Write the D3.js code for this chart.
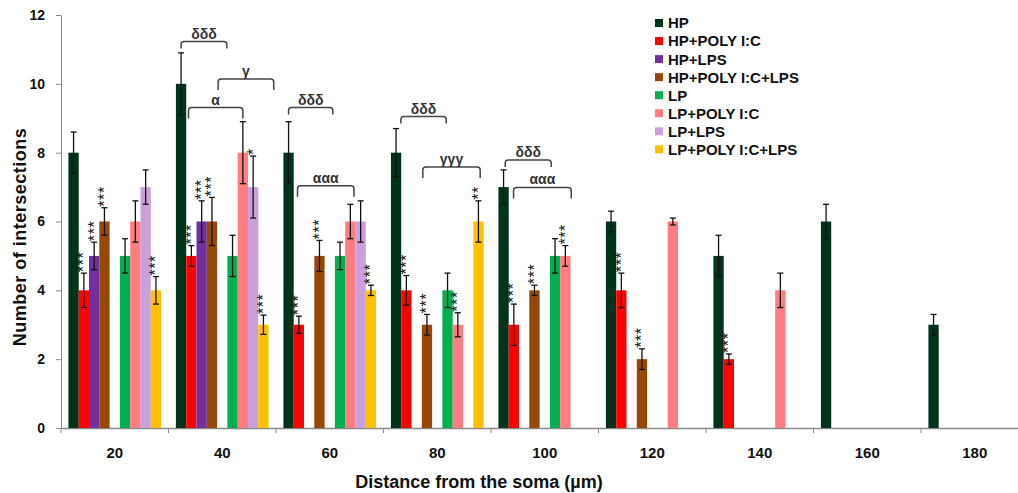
<!DOCTYPE html>
<html>
<head>
<meta charset="utf-8">
<script src="https://cdn.jsdelivr.net/npm/d3@7"></script>
<style>
  body { margin: 0; background: #fff; }
  text { font-family: Arial, "Liberation Sans", sans-serif; }
</style>
</head>
<body>
<div id="chart"></div>
<script>
// distance bins (µm)
const categories = ["20", "40", "60", "80", "100", "120", "140", "160", "180"];
const seriesNames = ["HP", "HP+POLY I:C", "HP+LPS", "HP+POLY I:C+LPS",
                     "LP", "LP+POLY I:C", "LP+LPS", "LP+POLY I:C+LPS"];
const seriesColors = ["#00331a", "#ff0000", "#7030a0", "#974806",
                      "#00b050", "#ff7c80", "#c9a0dc", "#ffc000"];

// mean values per series (null = no bar)
const hp          = [8, 10, 8, 8, 7, 6, 5, 6, 3];
const hpPoly      = [4, 5, 3, 4, 3, 4, 2, null, null];
const hpLps       = [5, 6, null, null, null, null, null, null, null];
const hpPolyLps   = [6, 6, 5, 3, 4, 2, null, null, null];
const lp          = [5, 5, 5, 4, 5, null, null, null, null];
const lpPoly      = [6, 8, 6, 3, 5, 6, 4, null, null];
const lpLps       = [7, 7, 6, null, null, null, null, null, null];
const lpPolyLps   = [4, 3, 4, 6, null, null, null, null, null];

// error (± s.e.m.)
const hpErr        = [0.6, 0.9, 0.9, 0.7, 0.5, 0.3, 0.6, 0.5, 0.3];
const hpPolyErr    = [0.5, 0.3, 0.25, 0.43, 0.6, 0.5, 0.15, null, null];
const hpLpsErr     = [0.4, 0.6, null, null, null, null, null, null, null];
const hpPolyLpsErr = [0.4, 0.7, 0.45, 0.3, 0.15, 0.3, null, null, null];
const lpErr        = [0.5, 0.6, 0.4, 0.5, 0.5, null, null, null, null];
const lpPolyErr    = [0.6, 0.9, 0.5, 0.35, 0.3, 0.1, 0.5, null, null];
const lpLpsErr     = [0.5, 0.9, 0.6, null, null, null, null, null, null];
const lpPolyLpsErr = [0.4, 0.28, 0.15, 0.6, null, null, null, null, null];

// significance stars above error bars
const hpStars        = [];
const hpPolyStars    = ["***", "***", "***", "***", "***", "***", "***"];
const hpLpsStars     = ["***", "***"];
const hpPolyLpsStars = ["***", "***", "***", "***", "***", "***"];
const lpStars        = [];
const lpPolyStars    = [null, null, null, "***", "***"];
const lpLpsStars     = [null, "*"];
const lpPolyLpsStars = ["***", "***", "***", "**"];

// comparison brackets: category index, from slot, to slot, height, label
const brackets = [
  [1, 0, 4.45, 11.23, "δδδ"],
  [1, 3.6, 9.0, 10.14, "γ"],
  [1, 0.72, 6.0, 9.31, "α"],
  [2, 0, 4.3, 9.31, "δδδ"],
  [2, 0.87, 6.35, 7.04, "ααα"],
  [3, 0.47, 4.87, 9.05, "δδδ"],
  [3, 2.6, 8.17, 7.58, "γγγ"],
  [4, 0.16, 4.63, 7.79, "δδδ"],
  [4, 0.97, 6.57, 6.99, "ααα"]
];

const yTicks = [0, 2, 4, 6, 8, 10, 12];

const values = [hp, hpPoly, hpLps, hpPolyLps, lp, lpPoly, lpLps, lpPolyLps];
const errors = [hpErr, hpPolyErr, hpLpsErr, hpPolyLpsErr, lpErr, lpPolyErr, lpLpsErr, lpPolyLpsErr];
const stars = [hpStars, hpPolyStars, hpLpsStars, hpPolyLpsStars, lpStars, lpPolyStars, lpLpsStars, lpPolyLpsStars];
// HP groups fill slots 0-3, LP groups slots 5-8 (one empty slot between)
const slotOf = i => i < 4 ? i : i + 1;

const width = 1018, height = 493;
const svg = d3.select("#chart").append("svg")
    .attr("width", width)
    .attr("height", height);

const x = d3.scaleBand()
    .domain(categories)
    .range([61, 61 + 9 * 107.5]);
const slot = d3.scaleBand()
    .domain(d3.range(9))
    .range([0, x.bandwidth()])
    .paddingOuter(0.72);
const y = d3.scaleLinear()
    .domain([0, 12])
    .range([428, 15]);

const slotCenter = (cat, s) => x(cat) + slot(0) + (s + 0.5) * slot.step();

// flatten bars
const bars = [];
values.forEach((vals, si) => {
    vals.forEach((v, ci) => {
        if (v == null) return;
        bars.push({
            series: si, cat: categories[ci], value: v,
            err: errors[si][ci], star: stars[si][ci] || null
        });
    });
});

// y axis
const yAxis = svg.append("g")
    .attr("transform", "translate(61,0)")
    .call(d3.axisLeft(y).tickValues(yTicks).tickSize(5).tickSizeOuter(0).tickPadding(11));
yAxis.select(".domain").attr("stroke", "#8a8a8a");
yAxis.selectAll(".tick line").attr("stroke", "#8a8a8a");
yAxis.selectAll("text")
    .style("font-size", "14px")
    .style("font-weight", "bold")
    .attr("fill", "#111");

// x axis (labels centred on groups, ticks on group borders)
const xAxis = svg.append("g")
    .attr("transform", "translate(0,428)")
    .call(d3.axisBottom(x).tickSize(0).tickPadding(19));
xAxis.select(".domain").attr("stroke", "#8a8a8a").attr("stroke-width", 1.5);
xAxis.selectAll("text")
    .style("font-size", "15px")
    .style("font-weight", "bold")
    .attr("fill", "#111");
xAxis.selectAll(".border")
    .data(categories.concat(["end"]))
    .enter().append("line")
    .attr("class", "border")
    .attr("x1", d => d === "end" ? x.range()[1] : x(d))
    .attr("x2", d => d === "end" ? x.range()[1] : x(d))
    .attr("y1", 0)
    .attr("y2", 5)
    .attr("stroke", "#8a8a8a");

// bars
svg.append("g").selectAll("rect")
    .data(bars)
    .enter().append("rect")
    .attr("x", d => x(d.cat) + slot(slotOf(d.series)))
    .attr("y", d => y(d.value))
    .attr("width", slot.bandwidth())
    .attr("height", d => y(0) - y(d.value))
    .attr("fill", d => seriesColors[d.series]);

// error bars
const eb = svg.append("g")
    .attr("stroke", "#111")
    .attr("stroke-width", 1.3)
    .selectAll("g")
    .data(bars)
    .enter().append("g")
    .attr("transform", d => `translate(${slotCenter(d.cat, slotOf(d.series))},0)`);
eb.append("line")
    .attr("y1", d => y(d.value + d.err))
    .attr("y2", d => y(d.value - d.err));
eb.append("line")
    .attr("x1", -3).attr("x2", 3)
    .attr("y1", d => y(d.value + d.err))
    .attr("y2", d => y(d.value + d.err));
eb.append("line")
    .attr("x1", -3).attr("x2", 3)
    .attr("y1", d => y(d.value - d.err))
    .attr("y2", d => y(d.value - d.err));

// stars, written vertically
svg.append("g").selectAll("text")
    .data(bars.filter(d => d.star))
    .enter().append("text")
    .attr("transform", d => `translate(${slotCenter(d.cat, slotOf(d.series))},${y(d.value + d.err) - 1}) rotate(-90)`)
    .attr("dy", "0.34em")
    .style("font-size", "16px")
    .style("letter-spacing", "0.6px")
    .attr("fill", "#111")
    .text(d => d.star);

// comparison brackets
const br = svg.append("g").selectAll("g")
    .data(brackets)
    .enter().append("g");
br.append("path")
    .attr("fill", "none")
    .attr("stroke", "#444")
    .attr("stroke-width", 1.5)
    .attr("d", d => {
        const cat = categories[d[0]];
        const x1 = slotCenter(cat, d[1]), x2 = slotCenter(cat, d[2]);
        const yy = y(d[3]);
        const leg = d[4].startsWith("δ") ? 7 : 11;
        const r = 3;
        return `M${x1},${yy + leg}L${x1},${yy + r}Q${x1},${yy} ${x1 + r},${yy}` +
               `L${x2 - r},${yy}Q${x2},${yy} ${x2},${yy + r}L${x2},${yy + leg}`;
    });
br.append("text")
    .attr("x", d => {
        const cat = categories[d[0]];
        return (slotCenter(cat, d[1]) + slotCenter(cat, d[2])) / 2;
    })
    .attr("y", d => y(d[3]) - 3)
    .attr("text-anchor", "middle")
    .style("font-size", "14px")
    .style("font-weight", "bold")
    .attr("fill", "#333")
    .text(d => d[4]);

// axis titles
svg.append("text")
    .attr("transform", "translate(26,237) rotate(-90)")
    .attr("text-anchor", "middle")
    .style("font-size", "18px")
    .style("font-weight", "bold")
    .style("letter-spacing", "0.5px")
    .attr("fill", "#111")
    .text("Number of intersections");
svg.append("text")
    .attr("x", 479)
    .attr("y", 488)
    .attr("text-anchor", "middle")
    .style("font-size", "18px")
    .style("font-weight", "bold")
    .attr("fill", "#111")
    .text("Distance from the soma (µm)");

// legend
const legend = svg.append("g")
    .attr("transform", "translate(655,23)")
    .selectAll("g")
    .data(seriesNames)
    .enter().append("g")
    .attr("transform", (d, i) => `translate(0,${i * 18.05})`);
legend.append("rect")
    .attr("x", 0)
    .attr("y", -4)
    .attr("width", 8)
    .attr("height", 8)
    .attr("fill", (d, i) => seriesColors[i]);
legend.append("text")
    .attr("x", 13)
    .attr("dy", "0.36em")
    .style("font-size", "15px")
    .style("font-weight", "bold")
    .attr("fill", "#111")
    .text(d => d);
</script>
</body>
</html>
